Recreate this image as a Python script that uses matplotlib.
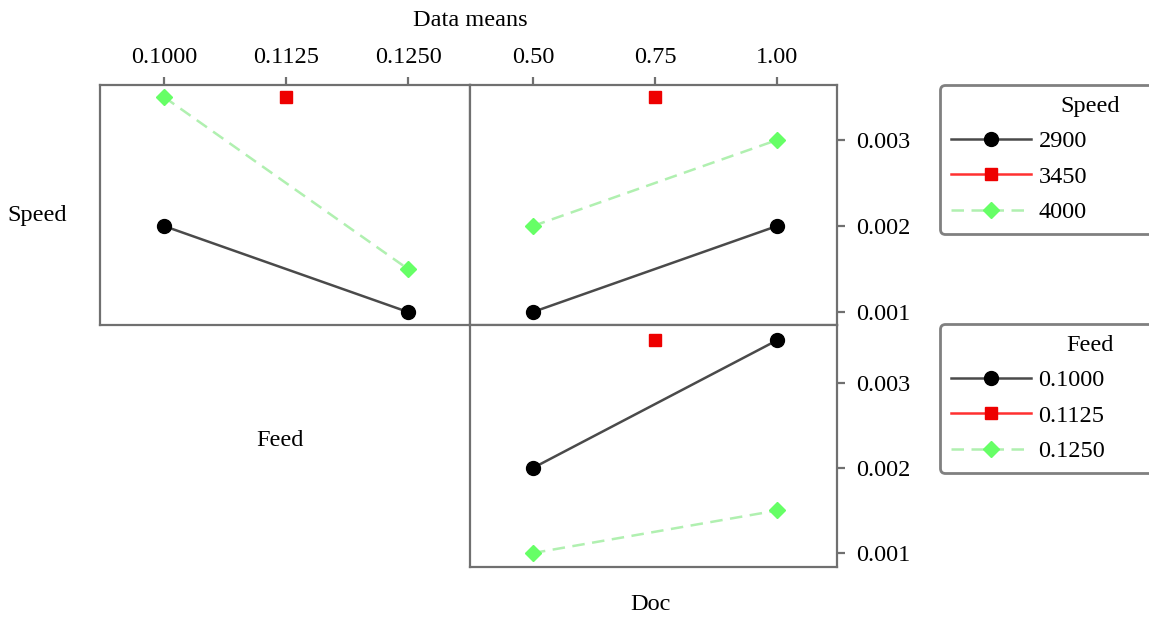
import matplotlib
matplotlib.use("Agg")
import matplotlib.pyplot as plt
from matplotlib.lines import Line2D

plt.rcParams['font.family'] = ['Liberation Serif', 'DejaVu Serif']
plt.rcParams['font.size'] = 17.5

# data means
feed_levels = [0.1000, 0.1125, 0.1250]
doc_levels = [0.50, 0.75, 1.00]
speed_labels = ['2900', '3450', '4000']
feed_labels = ['0.1000', '0.1125', '0.1250']

# Speed x Feed (top left): points per speed level, None = missing
speed_by_feed = {
    '2900': [0.0020, None, 0.0010],
    '3450': [None, 0.0035, None],
    '4000': [0.0035, None, 0.0015],
}
# Speed x Doc (top right)
speed_by_doc = {
    '2900': [0.0010, None, 0.0020],
    '3450': [None, 0.0035, None],
    '4000': [0.0020, None, 0.0030],
}
# Feed x Doc (bottom right)
feed_by_doc = {
    '0.1000': [0.0020, None, 0.0035],
    '0.1125': [None, 0.0035, None],
    '0.1250': [0.0010, None, 0.0015],
}

styles = [
    dict(color='#4a4a4a', ls='-', marker='o', mfc='black', mec='black', ms=10),
    dict(color='#ff3030', ls='-', marker='s', mfc='#ee0000', mec='#ee0000', ms=8.5),
    dict(color='#b0f0b0', ls=(0, (5, 3)), marker='D', mfc='#66ff66', mec='#66ff66', ms=8),
]
spine_col = '#707070'

W, H = 1149, 619
fig = plt.figure(figsize=(W / 100, H / 100), dpi=100)


def box(x0, y0, x1, y1):
    return [x0 / W, 1 - y1 / H, (x1 - x0) / W, (y1 - y0) / H]


ax_tl = fig.add_axes(box(100, 85, 470, 325))
ax_tr = fig.add_axes(box(470, 85, 837, 325))
ax_br = fig.add_axes(box(470, 325, 837, 567))


def draw(ax, xs, series):
    for st, (name, ys) in zip(styles, series.items()):
        px = [x for x, y in zip(xs, ys) if y is not None]
        py = [y for y in ys if y is not None]
        ax.plot(px, py, lw=1.8, color=st['color'], ls=st['ls'], marker=st['marker'],
                mfc=st['mfc'], mec=st['mec'], ms=st['ms'], clip_on=False)


draw(ax_tl, feed_levels, speed_by_feed)
draw(ax_tr, doc_levels, speed_by_doc)
draw(ax_br, doc_levels, feed_by_doc)

for ax in (ax_tl, ax_tr, ax_br):
    for s in ax.spines.values():
        s.set_color(spine_col)
        s.set_linewidth(1.6)
    ax.tick_params(colors=spine_col, labelcolor='black', length=6, width=1.6, pad=6)

ax_tl.set_xlim(0.09344, 0.13135)
ax_tr.set_xlim(0.371, 1.123)
ax_br.set_xlim(0.371, 1.123)
ax_tl.set_ylim(0.000849, 0.00364)
ax_tr.set_ylim(0.000849, 0.00364)
ax_br.set_ylim(0.000836, 0.00368)

ax_tl.set_xticks(feed_levels, feed_labels)
ax_tl.xaxis.tick_top()
ax_tl.set_yticks([])
ax_tr.set_xticks(doc_levels, ['0.50', '0.75', '1.00'])
ax_tr.xaxis.tick_top()
ax_br.set_xticks([])
for ax in (ax_tr, ax_br):
    ax.yaxis.tick_right()
    ax.set_yticks([0.001, 0.002, 0.003], ['0.001', '0.002', '0.003'])
    ax.tick_params(axis='y', pad=8)

fig.text(470 / W, 1 - 20 / H, 'Data means', ha='center', va='center')
fig.text(37 / W, 1 - 215 / H, 'Speed', ha='center', va='center')
fig.text(280 / W, 1 - 440 / H, 'Feed', ha='center', va='center')
fig.text(650 / W, 1 - 605 / H, 'Doc', ha='center', va='center')


def legend(labels, title, top, bottom):
    handles = [Line2D([], [], lw=1.8, color=st['color'], ls=st['ls'], marker=st['marker'],
                      mfc=st['mfc'], mec=st['mec'], ms=st['ms']) for st in styles]
    leg = fig.legend(handles, labels, title=title, loc='upper left',
                     bbox_to_anchor=box(940, top, 1240, bottom), mode='expand',
                     borderaxespad=0, borderpad=0.45, labelspacing=0.55,
                     handlelength=3.3, handletextpad=0.3, frameon=True,
                     fancybox=True, edgecolor='#808080', framealpha=1)
    leg.get_frame().set_linewidth(2)
    leg.get_frame().set_boxstyle('round', pad=0, rounding_size=0.2)
    return leg


legend(speed_labels, 'Speed', 85, 232)
legend(feed_labels, 'Feed', 324, 474)

fig.savefig('out.png', dpi=100)
